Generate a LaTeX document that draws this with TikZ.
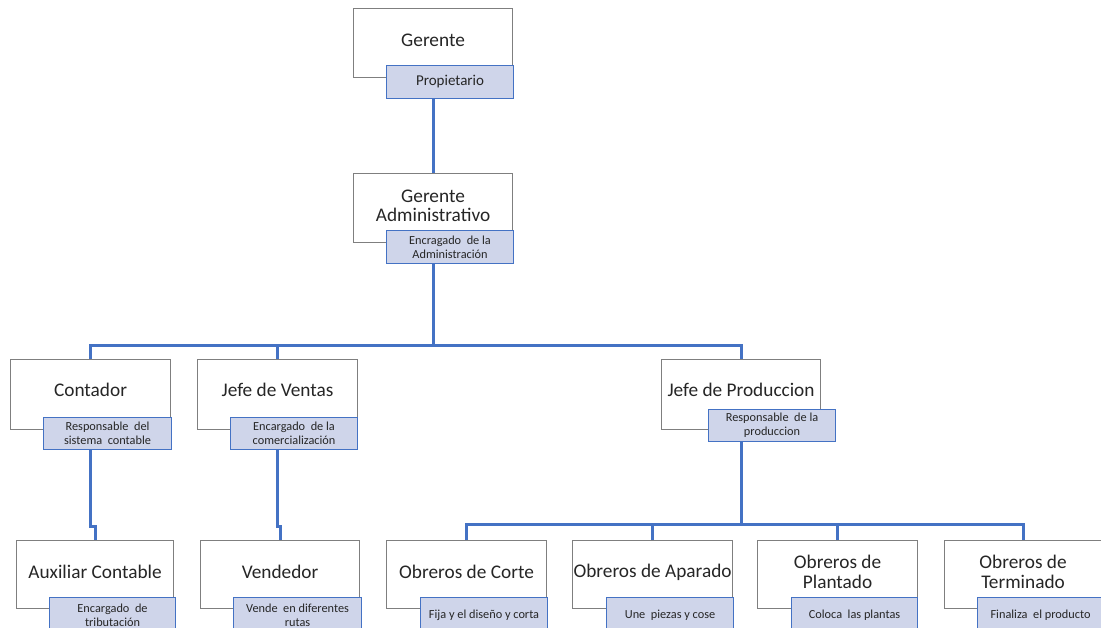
\documentclass[tikz,border=0pt]{standalone}
\usepackage{fontspec}
\setmainfont{Carlito}
\definecolor{boxgray}{HTML}{7F7F7F}
\definecolor{tagblue}{HTML}{4472C4}
\definecolor{tagfill}{HTML}{CFD5EA}
\definecolor{ink}{HTML}{262626}
\begin{document}
\begin{tikzpicture}[x=1pt,y=-1pt,
  box/.style={draw=boxgray, line width=1.1pt, fill=white, anchor=north west, inner sep=0pt},
  tag/.style={draw=tagblue, line width=1.1pt, fill=tagfill, anchor=north west, inner sep=0pt},
  title/.style={font=\fontsize{19.3}{19.5}\selectfont, align=center, text=ink, inner sep=0pt},
  note/.style={font=\fontsize{12.3}{14}\selectfont, align=center, text=ink, inner sep=0pt},
  bignote/.style={font=\fontsize{15}{16}\selectfont, align=center, text=ink, inner sep=0pt},
  conn/.style={draw=tagblue, line width=3pt, line join=miter}]
\useasboundingbox[fill=white] (0,0) rectangle (1101,628);

% ---- boxes ----
\node[box, minimum width=159pt, minimum height=69pt] (g)  at (353,8)   {};
\node[box, minimum width=159pt, minimum height=69pt] (ga) at (353,173) {};
\node[box, minimum width=160pt, minimum height=70pt] (c)  at (10,359)  {};
\node[box, minimum width=160pt, minimum height=70pt] (v)  at (197,359) {};
\node[box, minimum width=159pt, minimum height=70pt] (p)  at (661,359) {};
\node[box, minimum width=157pt, minimum height=68pt] (a)  at (16,540)  {};
\node[box, minimum width=159pt, minimum height=68pt] (ve) at (200,540) {};
\node[box, minimum width=160pt, minimum height=68pt] (oc) at (386,540) {};
\node[box, minimum width=160pt, minimum height=68pt] (oa) at (572,540) {};
\node[box, minimum width=160pt, minimum height=68pt] (op) at (757,540) {};
\node[box, minimum width=157pt, minimum height=68pt] (ot) at (944,540) {};

% ---- titles ----
\node[title] (gT)  at ([yshift=-32pt]g.north)  {Gerente};
\node[title] (gaT) at ([yshift=-33pt]ga.north) {Gerente\\Administrativo};
\node[title] (cT)  at ([yshift=-31pt]c.north)  {Contador};
\node[title] (vT)  at ([yshift=-31pt]v.north)  {Jefe de Ventas};
\node[title] (pT)  at ([yshift=-31pt]p.north)  {Jefe de Produccion};
\node[title] (aT)  at ([yshift=-32pt]a.north)  {Auxiliar Contable};
\node[title] (veT) at ([yshift=-32pt]ve.north) {Vendedor};
\node[title] (ocT) at ([yshift=-32pt]oc.north) {Obreros de Corte};
\node[title] (oaT) at ([yshift=-32pt]oa.north) {Obreros de Aparado};
\node[title] (opT) at ([yshift=-32pt]op.north) {Obreros de\\Plantado};
\node[title] (otT) at ([yshift=-32pt]ot.north) {Obreros de\\Terminado};

% ---- role tags ----
\node[tag, minimum width=127pt, minimum height=33pt] (gtag)  at (386,65)  {};
\node[tag, minimum width=127pt, minimum height=33pt] (gatag) at (386,230) {};
\node[tag, minimum width=128pt, minimum height=32pt] (ctag)  at (43,417)  {};
\node[tag, minimum width=127pt, minimum height=32pt] (vtag)  at (230,417) {};
\node[tag, minimum width=127pt, minimum height=32pt] (ptag)  at (708,409) {};
\node[tag, minimum width=126pt, minimum height=33pt] (atag)  at (49,597)  {};
\node[tag, minimum width=128pt, minimum height=33pt] (vetag) at (233,597) {};
\node[tag, minimum width=127pt, minimum height=33pt] (octag) at (420,597) {};
\node[tag, minimum width=127pt, minimum height=33pt] (oatag) at (606,597) {};
\node[tag, minimum width=126pt, minimum height=33pt] (optag) at (791,597) {};
\node[tag, minimum width=126pt, minimum height=33pt] (ottag) at (977,597) {};

\node[bignote] (gtagT)  at (gtag.center)  {Propietario};
\node[note]    (gatagT) at (gatag.center) {Encragado\ \ de la\\Administración};
\node[note]    (ctagT)  at (ctag.center)  {Responsable\ \ del\\sistema\ \ contable};
\node[note]    (vtagT)  at (vtag.center)  {Encargado\ \ de la\\comercialización};
\node[note]    (ptagT)  at (ptag.center)  {Responsable\ \ de la\\produccion};
\node[note]    (atagT)  at ([yshift=-1pt]atag.center)  {Encargado\ \ de\\tributación};
\node[note]    (vetagT) at ([yshift=-1pt]vetag.center) {Vende\ \ en diferentes\\rutas};
\node[note]    (octagT) at ([yshift=-1pt]octag.center) {Fija\ y el diseño\ y corta};
\node[note]    (oatagT) at ([yshift=-1pt]oatag.center) {Une\ \ piezas y cose};
\node[note]    (optagT) at ([yshift=-1pt]optag.center) {Coloca\ \ las plantas};
\node[note]    (ottagT) at ([yshift=-1pt]ottag.center) {Finaliza\ \ el producto};

% ---- connectors ----
\coordinate (bus1) at (0,346);
\coordinate (bus2) at (0,524);
\coordinate (jog)  at (0,526);

\draw[conn] (g.south |- gtag.south) -- (ga.north);
\draw[conn] (ga.south |- gatag.south) -- (ga.south |- bus1);
\draw[conn] (c.north) |- (bus1 -| p.north) -- (p.north);
\draw[conn] (v.north) -- (v.north |- bus1);

\draw[conn] (c.south |- ctag.south) -- (c.south |- jog) -| (a.north);
\draw[conn] (v.south |- vtag.south) -- (v.south |- jog) -| (ve.north);

\draw[conn] (p.south |- ptag.south) -- (p.south |- bus2);
\draw[conn] (oc.north) |- (bus2 -| ot.north) -- (ot.north);
\draw[conn] (oa.north) -- (oa.north |- bus2);
\draw[conn] (op.north) -- (op.north |- bus2);
\end{tikzpicture}
\end{document}
